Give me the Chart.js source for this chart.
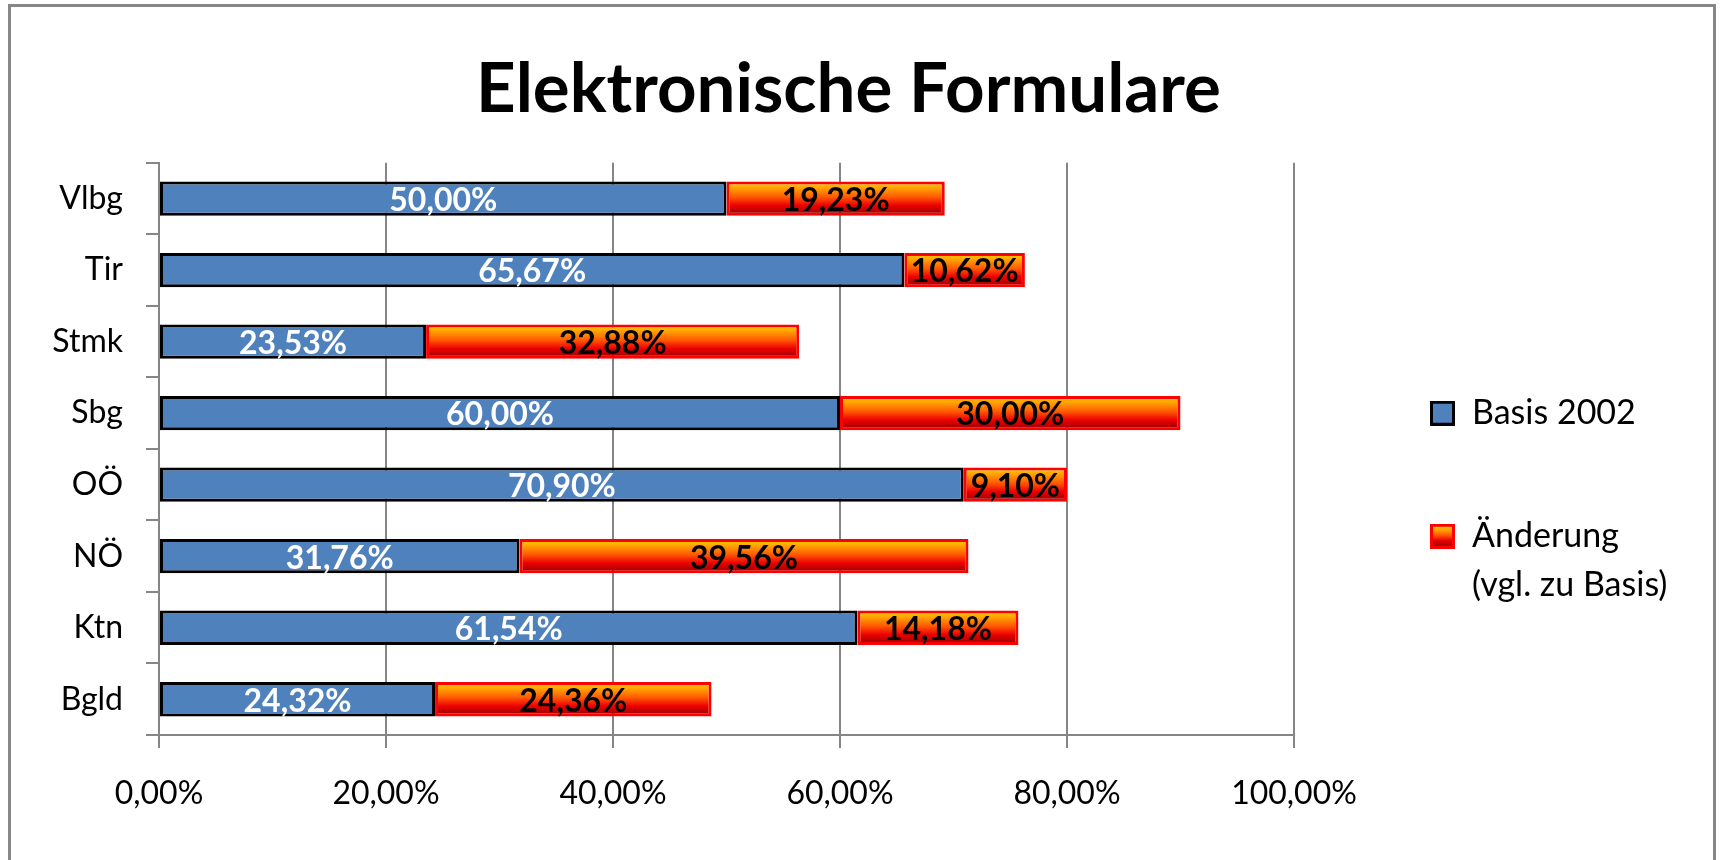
<!DOCTYPE html>
<html>
<head>
<meta charset="utf-8">
<script src="https://cdn.jsdelivr.net/npm/chart.js@4"></script>
<style>
  html, body { margin: 0; padding: 0; background: #fff; }
  #wrap { position: relative; width: 1721px; height: 860px; overflow: hidden; }
  #frame { position: absolute; left: 8px; top: 4px; width: 1708px; height: 900px; border: 3px solid #878787; box-sizing: border-box; }
  canvas { position: absolute; left: 0; top: 0; }
</style>
</head>
<body>
<div id="wrap"><div id="frame"></div><canvas id="chart" width="1721" height="860"></canvas></div>
<script>
const regions = ['Vlbg', 'Tir', 'Stmk', 'Sbg', 'OÖ', 'NÖ', 'Ktn', 'Bgld'];
const basis2002 = [50.00, 65.67, 23.53, 60.00, 70.90, 31.76, 61.54, 24.32];
const aenderung = [19.23, 10.62, 32.88, 30.00, 9.10, 39.56, 14.18, 24.36];
const xTicks = [0, 20, 40, 60, 80, 100];

const FONT = 'Lato';
const BAR_SHARE = 0.96 * 0.5;

function fmt(v) {
  return v.toFixed(2).replace('.', ',') + '%';
}

function redGradient(c, top, bottom) {
  const g = c.createLinearGradient(0, top, 0, bottom);
  g.addColorStop(0, '#FFD800');
  g.addColorStop(0.45, '#FF5A00');
  g.addColorStop(0.7, '#EE0000');
  g.addColorStop(1, '#8A0000');
  return g;
}

// small square images for the legend
function legendSwatch(fill, stroke) {
  const cv = document.createElement('canvas');
  cv.width = 25; cv.height = 25;
  const c = cv.getContext('2d');
  c.fillStyle = fill === 'grad' ? redGradient(c, 2, 23) : fill;
  c.fillRect(1.5, 1.5, 22, 22);
  c.lineWidth = 3;
  c.strokeStyle = stroke;
  c.strokeRect(1.5, 1.5, 22, 22);
  return cv;
}
const swatches = [legendSwatch('#4F81BD', '#000'), legendSwatch('grad', '#FF0000')];

// white / black value text in the middle of each bar piece
const barLabels = {
  id: 'barLabels',
  afterDatasetsDraw(chart) {
    const c = chart.ctx;
    c.save();
    c.font = 'bold 32px ' + FONT;
    c.textAlign = 'center';
    c.textBaseline = 'middle';
    chart.data.datasets.forEach((ds, di) => {
      chart.getDatasetMeta(di).data.forEach((bar, i) => {
        c.fillStyle = di === 0 ? '#fff' : '#000';
        c.fillText(fmt(ds.data[i]), (bar.x + bar.base) / 2, bar.y + 2);
      });
    });
    c.restore();
  }
};

// fixed legend width so the boxes line up with the reference
const legendWidth = {
  id: 'legendWidth',
  afterInit(chart) {
    const lg = chart.legend;
    const fit = lg.fit;
    lg.fit = function () {
      fit.call(this);
      this.width = 356;
    };
  }
};

const chart = new Chart(document.getElementById('chart'), {
  type: 'bar',
  data: {
    labels: regions,
    datasets: [
      {
        label: 'Basis 2002',
        data: basis2002,
        backgroundColor: '#4F81BD',
        borderColor: '#000',
        borderWidth: 3,
        borderSkipped: false,
        barPercentage: 0.96,
        categoryPercentage: 0.5
      },
      {
        label: 'Änderung (vgl. zu Basis)',
        data: aenderung,
        backgroundColor(ctx) {
          const y = ctx.chart.scales.y;
          if (ctx.type !== 'data' || !y || !y.height) return '#FF3000';
          const yc = y.getPixelForValue(ctx.dataIndex);
          const half = y.height / regions.length * BAR_SHARE / 2;
          return redGradient(ctx.chart.ctx, yc - half, yc + half);
        },
        borderColor: '#FF0000',
        borderWidth: 3,
        borderSkipped: false,
        barPercentage: 0.96,
        categoryPercentage: 0.5
      }
    ]
  },
  options: {
    indexAxis: 'y',
    responsive: false,
    animation: false,
    devicePixelRatio: 1,
    layout: { padding: { left: 0, right: 24, top: 0, bottom: 0 } },
    plugins: {
      title: {
        display: true,
        text: 'Elektronische Formulare',
        color: '#000',
        font: { family: FONT, size: 69, weight: 'bold', lineHeight: 1.2 },
        padding: { top: 48, bottom: 32 }
      },
      legend: {
        position: 'right',
        align: 'center',
        // empty legend title only pushes the entries down
        title: { display: true, text: '', font: { size: 20, lineHeight: 1 }, padding: { top: 67, bottom: 67 } },
        labels: {
          color: '#000',
          font: { family: FONT, size: 34, lineHeight: 1.45 },
          usePointStyle: true,
          boxWidth: 25,
          boxHeight: 25,
          padding: 89,
          generateLabels(chart) {
            const items = Chart.defaults.plugins.legend.labels.generateLabels(chart);
            items.forEach((it, i) => { it.pointStyle = swatches[i]; });
            items[1].text = ['Änderung', '(vgl. zu Basis)'];
            return items;
          }
        }
      },
      tooltip: { enabled: false }
    },
    scales: {
      x: {
        stacked: true,
        min: 0,
        max: 100,
        afterBuildTicks(s) { s.ticks = xTicks.map(v => ({ value: v })); },
        grid: { color: '#868686', lineWidth: 2, tickLength: 13 },
        border: { color: '#868686', width: 2 },
        ticks: { color: '#000', font: { family: FONT, size: 32 }, padding: 26, callback: v => fmt(v) },
        afterFit(s) { s.height = 125; }
      },
      y: {
        stacked: true,
        grid: { offset: true, drawOnChartArea: false, color: '#868686', lineWidth: 2, tickLength: 13 },
        border: { color: '#868686', width: 2 },
        ticks: { color: '#000', font: { family: FONT, size: 32 }, padding: 23 },
        afterFit(s) { s.width = 159; }
      },
      // empty spacer between plot and legend
      y2: {
        type: 'category',
        position: 'right',
        grid: { display: false },
        border: { display: false },
        ticks: { display: false },
        afterFit(s) { s.width = 47; }
      }
    }
  },
  plugins: [barLabels, legendWidth]
});
</script>
</body>
</html>
